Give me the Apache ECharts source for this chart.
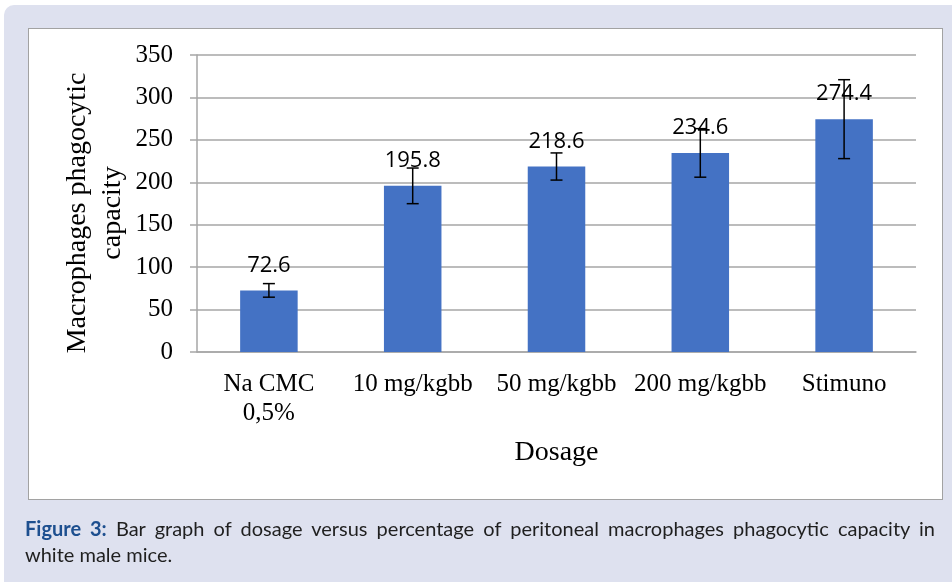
<!DOCTYPE html>
<html>
<head>
<meta charset="utf-8">
<title>Macrophages phagocytic capacity</title>
<script src="https://cdn.jsdelivr.net/npm/echarts@6/dist/echarts.min.js"></script>
<style>
  html, body { margin: 0; padding: 0; background: #fff; }
  #page { position: relative; width: 952px; height: 582px; overflow: hidden; }
  #panel {
    position: absolute; left: 4px; top: 5px; width: 980px; height: 620px;
    background: #dee1ef; border-radius: 10px;
  }
  #box {
    position: absolute; left: 28px; top: 28px; width: 915px; height: 472px;
    box-sizing: border-box; background: #fff; border: 1px solid #a2a2a2;
  }
  #chart { position: absolute; left: 0; top: 0; width: 952px; height: 582px; }
  .cap {
    position: absolute; left: 25px; width: 910px;
    font-family: Lato, "Noto Sans", sans-serif; font-size: 20px; line-height: 26px;
    color: #1f1f1f; white-space: nowrap;
  }
  .cap b { color: #1d4f8f; }
  #cap1 { top: 515px; text-align: justify; text-align-last: justify; white-space: normal; }
  #cap2 { top: 541px; }
</style>
</head>
<body>
<div id="page">
  <div id="panel"></div>
  <div id="box"></div>
  <div id="chart"></div>
  <div class="cap" id="cap1"><b>Figure 3:</b> Bar graph of dosage versus percentage of peritoneal macrophages phagocytic capacity in</div>
  <div class="cap" id="cap2">white male mice.</div>
</div>
<script>
// dosage groups and mean phagocytic capacity
const categories = ['Na CMC\n0,5%', '10 mg/kgbb', '50 mg/kgbb', '200 mg/kgbb', 'Stimuno']
const values = [72.6, 195.8, 218.6, 234.6, 274.4]
// +/- error of each bar (read from the whiskers)
const errors = [8, 21, 16, 28.6, 46.5]
const yTicks = [0, 50, 100, 150, 200, 250, 300, 350]

const serif = '"Liberation Serif", "Times New Roman", serif'

// custom series data: [index, low, high]
const errorData = values.map((v, i) => [i, v - errors[i], v + errors[i]])

function renderError(params, api) {
  const x = api.value(0)
  const lo = api.coord([x, api.value(1)])
  const hi = api.coord([x, api.value(2)])
  const half = 6
  const style = { stroke: '#000', lineWidth: 1.5 }
  return {
    type: 'group',
    children: [
      { type: 'line', shape: { x1: lo[0], y1: lo[1], x2: hi[0], y2: hi[1] }, style: style },
      { type: 'line', shape: { x1: hi[0] - half, y1: hi[1], x2: hi[0] + half, y2: hi[1] }, style: style },
      { type: 'line', shape: { x1: lo[0] - half, y1: lo[1], x2: lo[0] + half, y2: lo[1] }, style: style }
    ]
  }
}

const option = {
  animation: false,
  grid: { left: 197, top: 55, right: 36, bottom: 230 },
  xAxis: {
    type: 'category',
    data: categories,
    name: 'Dosage',
    nameLocation: 'middle',
    nameGap: 87,
    nameTextStyle: { fontFamily: serif, fontSize: 28, color: '#000' },
    axisLine: { lineStyle: { color: '#a6a6a6', width: 1.5 } },
    axisTick: { show: false },
    axisLabel: {
      interval: 0,
      margin: 18,
      fontFamily: serif,
      fontSize: 25,
      lineHeight: 29,
      color: '#000'
    }
  },
  yAxis: {
    type: 'value',
    min: yTicks[0],
    max: yTicks[yTicks.length - 1],
    interval: 50,
    axisLine: { show: true, lineStyle: { color: '#a6a6a6', width: 1.5 } },
    axisTick: { show: true, length: 7, lineStyle: { color: '#a6a6a6', width: 1.5 } },
    splitLine: { lineStyle: { color: '#a6a6a6', width: 1.5 } },
    axisLabel: { margin: 24, fontFamily: serif, fontSize: 25, color: '#000' }
  },
  graphic: [
    {
      type: 'text',
      x: 95,
      y: 213,
      rotation: Math.PI / 2,
      style: {
        text: 'Macrophages phagocytic\ncapacity',
        fontFamily: serif,
        fontSize: 28,
        lineHeight: 35,
        fill: '#000',
        align: 'center',
        verticalAlign: 'middle'
      }
    }
  ],
  series: [
    {
      type: 'bar',
      data: values,
      barWidth: '40%',
      itemStyle: { color: '#4472c4' },
      label: {
        show: true,
        position: 'top',
        distance: 14,
        fontFamily: '"Open Sans", "Noto Sans", sans-serif',
        fontSize: 22,
        lineHeight: 22,
        color: '#000'
      }
    },
    {
      type: 'custom',
      data: errorData,
      renderItem: renderError,
      encode: { x: 0, y: [1, 2] },
      z: 10
    }
  ]
}

const chart = echarts.init(document.getElementById('chart'), null, { renderer: 'canvas' })
chart.setOption(option)
</script>
</body>
</html>
